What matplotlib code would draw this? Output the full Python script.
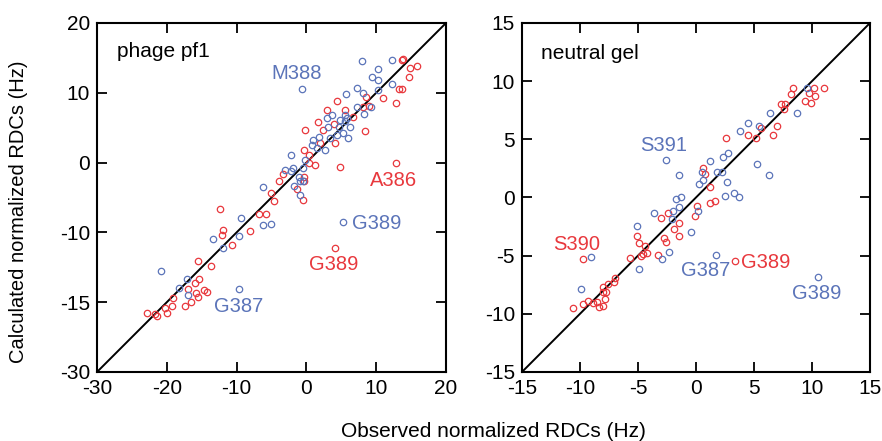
import matplotlib
matplotlib.use("Agg")
import matplotlib.pyplot as plt

plt.rcParams['font.family'] = ['Liberation Sans', 'DejaVu Sans']

RED = '#e8383d'
BLUE = '#5b74b9'

# ---- phage pf1 (left panel) ----
pf1_red_x = [13.9, 13.65, 14.8, 15.9, 14.7, 13.2, 13.65, 11.0, 12.9, 8.6, 8.15, 8.9, 8.4,
             4.4, 2.9, 5.5, 6.7, 1.6, 3.9, 2.4, -0.2, 4.1, 1.95, -0.4, 0.3, 0.3, 1.2, 4.8,
             -3.4, -3.9, -0.4, -0.4, -5.1, -1.4, 12.9,
             -4.6, -0.45, -12.4, -6.8, -5.8, -12.0, -12.1, -8.1, -10.7, -15.6, -13.7,
             -16.9, -16.0, -15.4, -15.8, -15.6, -14.7, -14.3, -19.1, -20.2, -19.2, -17.4,
             -16.6, -22.9, -21.45, -21.7, -20.0, 4.1]
pf1_red_y = [14.9, 14.7, 13.6, 13.9, 12.3, 10.6, 10.6, 9.2, 8.5, 9.35, 8.0, 8.1, 4.5,
             8.8, 7.5, 7.6, 6.6, 5.8, 5.5, 4.7, 4.7, 2.8, 2.8, 1.8, 1.1, -0.1, -0.4, -0.7,
             -1.6, -2.7, -2.0, -2.7, -4.4, -3.8, 0.0,
             -5.5, -5.3, -6.7, -7.3, -7.3, -9.65, -10.4, -9.8, -11.8, -14.1, -14.8,
             -18.1, -17.2, -16.7, -18.7, -19.2, -18.25, -18.5, -19.35, -20.8, -20.5, -20.5,
             -20.0, -21.6, -22.0, -21.7, -21.6, -12.3]

pf1_blue_x = [7.9, 12.3, 10.3, 9.35, 10.3, -0.6, 12.3, 7.3, 8.1, 5.7, 10.3, 7.2, 9.25,
              8.25, 3.7, 3.0, 4.8, 5.5, 5.8, 5.5, 6.25, 4.6, 3.1, 5.3, 6.0, 4.35, 3.4,
              1.85, 0.9, 0.75, 1.5, 2.7, -2.25, -0.2, -0.5, -1.9, -3.1, -2.25, -1.05,
              -0.45, -0.9, -6.2, -1.8, -0.9,
              -9.4, -6.2, -5.1, -9.65, -13.4, -11.9, -20.8, -17.1, -18.2, -17.0, -9.6, 5.3]
pf1_blue_y = [14.5, 14.7, 13.4, 12.3, 11.9, 10.5, 11.3, 10.7, 10.0, 9.8, 10.4, 8.0, 8.0,
              6.9, 6.8, 6.4, 6.1, 6.8, 6.35, 5.9, 5.05, 5.1, 5.05, 4.2, 3.5, 3.95, 3.5,
              3.7, 3.2, 2.5, 2.05, 1.8, 1.15, 0.3, -0.8, -0.8, -1.0, -1.2, -2.0,
              -2.7, -2.7, -3.5, -3.35, -4.6,
              -8.0, -8.9, -8.8, -10.5, -11.0, -12.3, -15.5, -16.7, -18.0, -18.9, -18.1, -8.55]

# ---- neutral gel (right panel) ----
gel_red_x = [8.4, 8.2, 10.2, 11.0, 9.75, 10.3, 9.4, 9.9, 7.3, 7.7, 7.6, 7.0, 6.6, 5.6,
             5.2, 4.5, 2.6, 0.6, 0.8, 1.25, 1.25, 1.6, 0.05, -0.1, -2.4, -3.05, -1.5,
             -1.9, -1.45, -2.8, -2.6, -5.1, -4.9, -4.4, -4.25, -4.55, -4.75, -3.3, -5.7,
             -9.7, 3.35, -7.0, -7.05, -7.55, -8.05, -8.0, -7.75, -9.3, -9.7, -8.9, -8.5,
             -8.35, -8.0, -7.85, -10.6]
gel_red_y = [9.45, 8.9, 9.4, 9.4, 9.0, 8.7, 8.3, 8.15, 8.0, 8.0, 7.6, 6.15, 5.4, 6.0,
             5.1, 5.4, 5.15, 2.55, 2.0, 0.9, -0.45, -0.3, -0.7, -1.55, -1.35, -1.75, -2.2,
             -2.7, -3.35, -3.5, -3.8, -3.35, -3.95, -4.15, -4.75, -4.85, -5.0, -4.95, -5.2,
             -5.3, -5.45, -6.95, -7.3, -7.4, -7.7, -8.1, -8.1, -8.9, -9.15, -9.05, -8.95,
             -9.4, -9.3, -8.75, -9.5]

gel_blue_x = [9.6, 8.7, 6.4, 4.45, 5.4, 3.8, -2.6, 2.8, 2.35, 1.25, 5.3, 6.3, -1.5, 1.8,
              2.2, 0.5, 0.6, 0.25, 2.65, 2.5, 3.3, 3.7, -1.3, -1.7, -1.5, -1.95, -2.05,
              -3.6, 0.15, -0.4, -5.1, -2.3, -2.95, -4.95, -9.05, 1.7, -9.9, 10.5]
gel_blue_y = [9.4, 7.25, 7.3, 6.4, 6.15, 5.7, 3.2, 3.8, 3.5, 3.15, 2.9, 1.9, 1.9, 2.2,
              2.2, 2.2, 1.5, 1.2, 1.3, 0.1, 0.35, 0.0, 0.0, -0.15, -0.8, -1.15, -1.85,
              -1.3, -1.2, -2.95, -2.45, -4.65, -5.25, -6.15, -5.1, -4.95, -7.9, -6.8]

fig = plt.figure(figsize=(8.82, 4.41), dpi=100)
ax1 = fig.add_axes([0.110, 0.1565, 0.3957, 0.7914])
ax2 = fig.add_axes([0.5918, 0.1565, 0.3946, 0.7914])


def style(ax, lim, ticks, labels):
    ax.plot(lim, lim, color='black', lw=1.4, zorder=1)
    ax.set_xlim(lim)
    ax.set_ylim(lim)
    ax.set_xticks(ticks)
    ax.set_yticks(ticks)
    ax.set_xticklabels([str(t) for t in ticks])
    ax.set_yticklabels(labels)
    ax.tick_params(direction='in', length=7, width=1.3, top=True, right=True,
                   labelsize=15, pad=5)
    for s in ax.spines.values():
        s.set_linewidth(1.5)


def dots(ax, x, y, c):
    ax.plot(x, y, 'o', ls='none', mfc='none', mec=c, mew=0.9, ms=4.6, zorder=2)


style(ax1, [-30, 20], [-30, -20, -10, 0, 10, 20], ['-30', '-15', '-10', '0', '10', '20'])
dots(ax1, pf1_red_x, pf1_red_y, RED)
dots(ax1, pf1_blue_x, pf1_blue_y, BLUE)
ax1.text(-27.2, 15.9, 'phage pf1', fontsize=15, va='center', ha='left')
ax1.text(-1.4, 12.7, 'M388', fontsize=14.5, color=BLUE, ha='center', va='center')
ax1.text(12.5, -2.5, 'A386', fontsize=14.5, color=RED, ha='center', va='center')
ax1.text(10.1, -8.7, 'G389', fontsize=14.5, color=BLUE, ha='center', va='center')
ax1.text(3.85, -14.6, 'G389', fontsize=14.5, color=RED, ha='center', va='center')
ax1.text(-9.65, -20.6, 'G387', fontsize=14.5, color=BLUE, ha='center', va='center')

gticks = [-15, -10, -5, 0, 5, 10, 15]
style(ax2, [-15, 15], gticks, [str(t) for t in gticks])
dots(ax2, gel_red_x, gel_red_y, RED)
dots(ax2, gel_blue_x, gel_blue_y, BLUE)
ax2.text(-13.4, 12.4, 'neutral gel', fontsize=15, va='center', ha='left')
ax2.text(-2.8, 4.5, 'S391', fontsize=14.5, color=BLUE, ha='center', va='center')
ax2.text(-10.3, -4.0, 'S390', fontsize=14.5, color=RED, ha='center', va='center')
ax2.text(0.8, -6.3, 'G387', fontsize=14.5, color=BLUE, ha='center', va='center')
ax2.text(6.0, -5.6, 'G389', fontsize=14.5, color=RED, ha='center', va='center')
ax2.text(10.4, -8.25, 'G389', fontsize=14.5, color=BLUE, ha='center', va='center')

fig.text(0.56, 0.022, 'Observed normalized RDCs (Hz)', fontsize=15, ha='center', va='center')
fig.text(0.021, 0.52, 'Calculated normalized RDCs (Hz)', fontsize=14.5, ha='center',
         va='center', rotation=90)

fig.savefig('out.png', dpi=100)
